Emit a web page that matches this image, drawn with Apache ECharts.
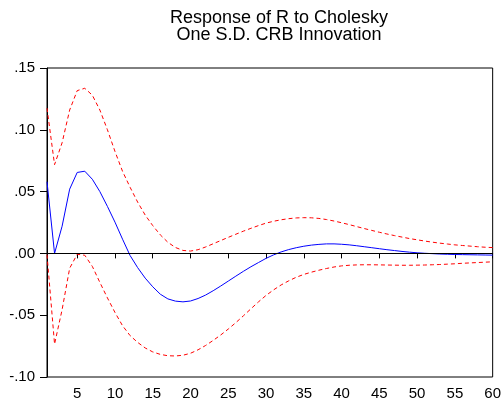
<!DOCTYPE html>
<html>
<head>
<meta charset="utf-8">
<script src="https://cdn.jsdelivr.net/npm/echarts@6/dist/echarts.min.js"></script>
<style>
  html, body { margin: 0; padding: 0; background: #fff; }
  #chart { width: 504px; height: 407px; }
</style>
</head>
<body>
<div id="chart"></div>
<script>
// periods 1..60
var periods = [];
for (var p = 1; p <= 60; p++) periods.push(String(p));

var response = [
  0.058, 0.000, 0.022, 0.052, 0.0655, 0.0665, 0.060, 0.0500, 0.038, 0.0253,
  0.0115, -0.0017, -0.0115, -0.020, -0.027, -0.0330, -0.0368, -0.0386, -0.0392, -0.0385,
  -0.0365, -0.0337, -0.0302, -0.0264, -0.0224, -0.0184, -0.0145, -0.0108, -0.0074, -0.0040,
  -0.0012, 0.0012, 0.0031, 0.0046, 0.0058, 0.0067, 0.0073, 0.0077, 0.0077, 0.0074,
  0.0069, 0.0062, 0.0054, 0.0046, 0.0038, 0.0030, 0.0023, 0.0016, 0.0010, 0.0005,
  0.0001, -0.0002, -0.0005, -0.0007, -0.0009, -0.0010, -0.0011, -0.0012, -0.0013, -0.0014
];

var upperBand = [
  0.1175, 0.0718, 0.0895, 0.116, 0.1317, 0.1336, 0.128, 0.116, 0.100, 0.0825,
  0.0664, 0.0535, 0.0415, 0.031, 0.0225, 0.015, 0.009, 0.0048, 0.0024, 0.0019,
  0.003, 0.0052, 0.0078, 0.0104, 0.013, 0.0155, 0.018, 0.0203, 0.0225, 0.0245,
  0.026, 0.0272, 0.0281, 0.0287, 0.0289, 0.0288, 0.0283, 0.0274, 0.0262, 0.0248,
  0.0233, 0.0217, 0.0201, 0.0186, 0.0171, 0.0157, 0.0144, 0.0132, 0.0120, 0.0110,
  0.0100, 0.0091, 0.0083, 0.0076, 0.0069, 0.0064, 0.0059, 0.0054, 0.0050, 0.0047
];

var lowerBand = [
  -0.001, -0.0734, -0.0455, -0.012, -0.0007, -0.0015, -0.0105, -0.0235, -0.036, -0.0478,
  -0.0585, -0.0665, -0.072, -0.0765, -0.0797, -0.0817, -0.0828, -0.0830, -0.0824, -0.0808,
  -0.0780, -0.0745, -0.0704, -0.066, -0.0612, -0.056, -0.0505, -0.0448, -0.0392, -0.034,
  -0.0295, -0.0255, -0.0222, -0.0193, -0.017, -0.0152, -0.0136, -0.0122, -0.011, -0.0101,
  -0.0096, -0.0093, -0.0092, -0.0092, -0.0093, -0.0094, -0.0095, -0.0096, -0.0096, -0.0095,
  -0.0094, -0.0092, -0.009, -0.0087, -0.0084, -0.008, -0.0077, -0.0074, -0.0071, -0.0068
];

var yTicks = ['.15', '.10', '.05', '.00', '-.05', '-.10'];

function yLabel(v) {
  var s = Math.abs(v).toFixed(2).replace(/^0/, '');
  return (v < -1e-9 ? '-' : '') + s;
}

var chart = echarts.init(document.getElementById('chart'), null, { renderer: 'canvas', devicePixelRatio: 1 });

var font = 'Liberation Sans, Arial, sans-serif';

var option = {
  animation: false,
  title: {
    text: 'Response of R to Cholesky\nOne S.D. CRB Innovation',
    left: 274,
    top: 5,
    textAlign: 'center',
    textStyle: {
      fontFamily: font,
      fontSize: 18,
      fontWeight: 'normal',
      color: '#000',
      lineHeight: 17
    }
  },
  grid: {
    left: 47,
    right: 10,
    top: 68,
    bottom: 30,
    show: true,
    borderColor: '#000',
    borderWidth: 1
  },
  xAxis: {
    type: 'category',
    data: periods,
    boundaryGap: false,
    axisLine: { lineStyle: { color: '#000', width: 1 } },
    axisTick: {
      length: 5,
      interval: function (i, v) { return Number(v) % 5 === 0; },
      lineStyle: { color: '#000' }
    },
    axisLabel: {
      interval: function (i, v) { return Number(v) % 5 === 0; },
      margin: 9,
      fontFamily: font,
      fontSize: 15,
      color: '#000'
    },
    splitLine: { show: false }
  },
  yAxis: {
    type: 'value',
    min: -0.10,
    max: 0.15,
    interval: 0.05,
    axisLine: { show: true, lineStyle: { color: '#000', width: 1 } },
    axisTick: { show: true, length: 7, lineStyle: { color: '#000' } },
    axisLabel: {
      formatter: function (v) {
        var s = yLabel(v);
        return yTicks.indexOf(s) >= 0 ? s : '';
      },
      margin: 12,
      fontFamily: font,
      fontSize: 15,
      color: '#000'
    },
    splitLine: { show: false }
  },
  series: [
    {
      name: 'Response',
      type: 'line',
      data: response,
      symbol: 'none',
      smooth: false,
      lineStyle: { color: '#0000ff', width: 1 },
      z: 3,
      markLine: {
        silent: true,
        symbol: 'none',
        label: { show: false },
        lineStyle: { color: '#000', width: 1, type: 'solid' },
        data: [{ yAxis: 0 }]
      }
    },
    {
      name: 'Upper',
      type: 'line',
      data: upperBand,
      symbol: 'none',
      lineStyle: { color: '#ff0000', width: 1, type: [4, 3] }
    },
    {
      name: 'Lower',
      type: 'line',
      data: lowerBand,
      symbol: 'none',
      lineStyle: { color: '#ff0000', width: 1, type: [4, 3] }
    }
  ]
};

chart.setOption(option);
</script>
</body>
</html>
